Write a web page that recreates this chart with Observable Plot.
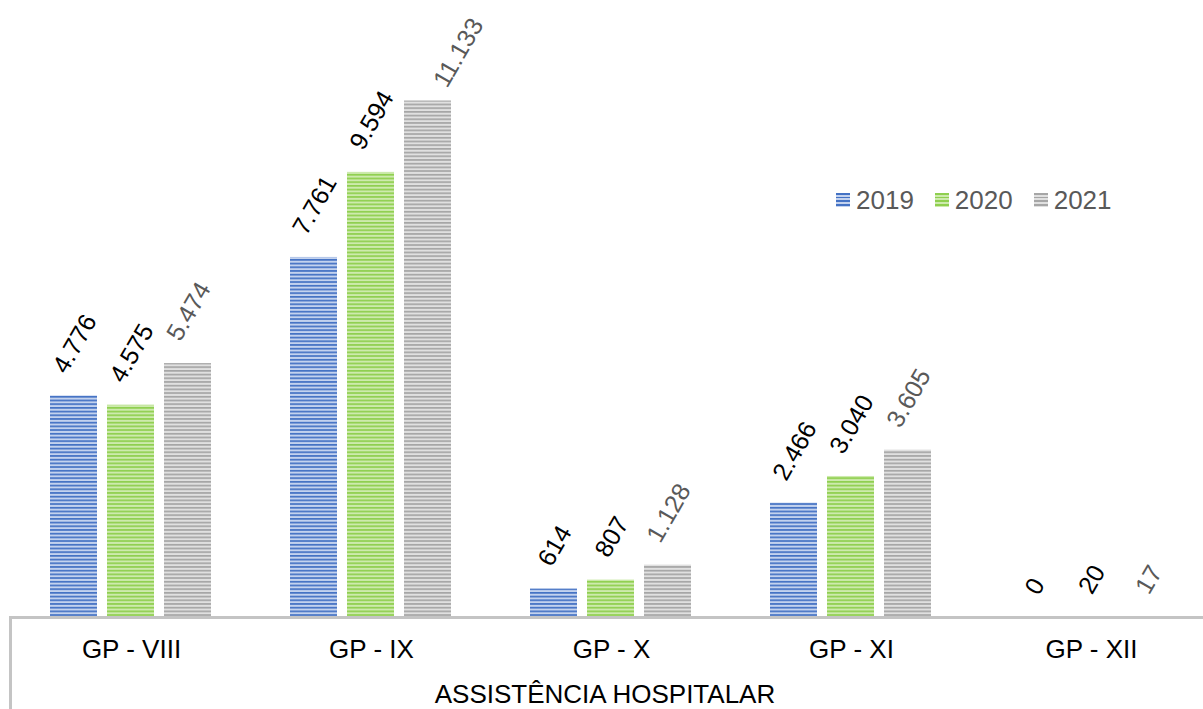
<!DOCTYPE html>
<html>
<head>
<meta charset="utf-8">
<script src="https://cdn.jsdelivr.net/npm/d3@7"></script>
<script src="https://cdn.jsdelivr.net/npm/@observablehq/plot@0.6"></script>
<style>
  body { margin: 0; background: #fff; font-family: "Liberation Sans", Arial, sans-serif; }
  #wrap { position: relative; width: 1203px; height: 709px; overflow: hidden; background: #fff; }
  #chart { position: absolute; left: 0; top: 0; width: 1212px; }
  #chart svg { max-width: none !important; }
  #vline { position: absolute; left: 8.5px; top: 615.5px; width: 3px; height: 94px; background: #c4c4c4; }
  #group { position: absolute; left: 0; width: 1210px; top: 681px; line-height: 26px; font-size: 26px; text-align: center; color: #000; white-space: nowrap; }
  #legend { position: absolute; left: 836px; top: 185px; height: 30px; display: flex; align-items: center; gap: 21px; font-size: 26px; color: #595959; line-height: 30px; }
  #legend .item { display: flex; align-items: center; }
  #legend .sw { width: 14px; height: 14px; margin-right: 6px; }
</style>
</head>
<body>
<div id="wrap">
  <div id="chart"></div>
  <div id="vline"></div>
  <div id="group"></div>
  <div id="legend"></div>
</div>
<script>
// ---- data ----
const categories = ["GP - VIII", "GP - IX", "GP - X", "GP - XI", "GP - XII"];
const years = [2019, 2020, 2021];
const v2019 = [4776, 7761, 614, 2466, 0];
const v2020 = [4575, 9594, 807, 3040, 20];
const v2021 = [5474, 11133, 1128, 3605, 17];
const groupLabel = "ASSISTÊNCIA HOSPITALAR";

// ---- styles ----
const stripeDark = ["#4472c4", "#8fcf4f", "#a6a6a6"];
const stripeLight = ["#c3d2ee", "#cdeaad", "#e0e0e0"];
const labelColors = ["#000000", "#000000", "#595959"];
const FS = 26;      // axis / legend text
const LFS = 25;     // data label text

const series = [v2019, v2020, v2021];
const rows = [];
categories.forEach((c, i) => {
  years.forEach((y, j) => rows.push({category: c, year: y, value: series[j][i]}));
});

const fmt = d3.formatLocale({decimal: ",", thousands: ".", grouping: [3], currency: ["R$", ""]}).format(",d");
const textWidth = s => [...s].reduce((a, ch) => a + (ch === "." ? 0.278 : 0.556), 0) * LFS;
const ANG = 60;
const sinA = Math.sin(ANG * Math.PI / 180);

// label marks grouped by label length (offset depends on rotated text size)
const labelMarks = [];
const lens = [...new Set(rows.map(r => fmt(r.value).length))];
years.forEach((yr, j) => {
  lens.forEach(len => {
    const sample = rows.find(r => r.year === yr && fmt(r.value).length === len);
    if (!sample) return;
    const L = textWidth(fmt(sample.value));
    labelMarks.push(Plot.text(rows, {
      filter: r => r.year === yr && fmt(r.value).length === len,
      x: "year",
      y: "value",
      text: r => fmt(r.value),
      rotate: -ANG,
      textAnchor: "middle",
      lineAnchor: "middle",
      fontSize: LFS,
      fill: labelColors[j],
      dx: 1,
      dy: -(25 + (L / 2) * sinA)
    }));
  });
});

const plot = Plot.plot({
  width: 1212,
  height: 709,
  marginLeft: 9,
  marginRight: 0,
  marginTop: 0,
  marginBottom: 92,
  style: {fontFamily: "'Liberation Sans', Arial, sans-serif", fontSize: FS + "px", color: "#000", background: "transparent", maxWidth: "none"},
  facet: {data: rows, x: "category"},
  fx: {domain: categories, padding: 0, axis: "bottom", tickSize: 0, tickPadding: 22, label: null},
  x: {domain: years, paddingInner: 10 / 58, paddingOuter: 0.6617, axis: null},
  y: {domain: [0, 13300], axis: null},
  color: {domain: years, range: years.map(y => `url(#stripe${y})`)},
  marks: [
    Plot.barY(rows, {x: "year", y: "value", fill: "year"}),
    Plot.ruleY([0], {stroke: "#c4c4c4", strokeWidth: 3}),
    ...labelMarks
  ]
});

// stripe pattern defs
const svg = d3.select(plot);
const defs = svg.insert("defs", ":first-child");
years.forEach((y, j) => {
  const p = defs.append("pattern")
    .attr("id", `stripe${y}`)
    .attr("patternUnits", "userSpaceOnUse")
    .attr("width", 8).attr("height", 3.7);
  p.append("rect").attr("width", 8).attr("height", 3.7).attr("fill", stripeLight[j]);
  p.append("rect").attr("width", 8).attr("height", 1.7).attr("fill", stripeDark[j]);
});

document.getElementById("chart").appendChild(plot);
document.getElementById("group").textContent = groupLabel;

// keep data labels inside the chart area (as the spreadsheet does)
const top0 = plot.getBoundingClientRect().top;
svg.selectAll("g[aria-label=text] text").each(function () {
  const r = this.getBoundingClientRect();
  const over = 13 - (r.top - top0);
  if (over > 0) {
    const t = this.getAttribute("transform") || "";
    this.setAttribute("transform", `translate(${over * 3},${over}) ` + t);
  }
});

const legend = d3.select("#legend");
years.forEach((y, j) => {
  const it = legend.append("div").attr("class", "item");
  it.append("div").attr("class", "sw")
    .style("background", `repeating-linear-gradient(to bottom, ${stripeDark[j]} 0 1.7px, ${stripeLight[j]} 1.7px 3.7px)`);
  it.append("span").text(y);
});
</script>
</body>
</html>
